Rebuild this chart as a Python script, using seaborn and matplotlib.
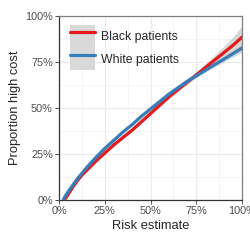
import pandas as pd
import matplotlib
matplotlib.use("Agg")
import matplotlib.pyplot as plt
import seaborn as sns
from matplotlib.lines import Line2D
from matplotlib.patches import Patch
from matplotlib.ticker import MultipleLocator, PercentFormatter

# risk estimate grid and smoothed proportion high cost per group
risk = [0.025, 0.05, 0.075, 0.10, 0.125, 0.15, 0.20, 0.25, 0.30, 0.35, 0.40, 0.45,
        0.50, 0.55, 0.60, 0.65, 0.70, 0.75, 0.80, 0.85, 0.90, 0.95, 1.00]
black_cost = [-0.005, 0.03, 0.07, 0.105, 0.135, 0.16, 0.21, 0.255, 0.30, 0.34, 0.38, 0.425,
              0.47, 0.515, 0.56, 0.60, 0.64, 0.68, 0.72, 0.76, 0.80, 0.84, 0.885]
white_cost = [0.006, 0.045, 0.08, 0.115, 0.145, 0.175, 0.23, 0.28, 0.325, 0.37, 0.41, 0.455,
              0.495, 0.535, 0.575, 0.61, 0.645, 0.675, 0.705, 0.735, 0.765, 0.795, 0.825]
black_se = [0.012, 0.01, 0.009, 0.008, 0.008, 0.008, 0.008, 0.008, 0.008, 0.008, 0.009, 0.009,
            0.01, 0.01, 0.01, 0.011, 0.012, 0.015, 0.02, 0.027, 0.035, 0.046, 0.06]
white_se = [0.01, 0.008, 0.007, 0.006, 0.006, 0.006, 0.006, 0.006, 0.006, 0.006, 0.006, 0.006,
            0.006, 0.006, 0.006, 0.007, 0.008, 0.008, 0.01, 0.012, 0.014, 0.018, 0.022]

groups = ["Black patients", "White patients"]
colors = {"Black patients": "#E41A1C", "White patients": "#377EB8"}

df = pd.concat([
    pd.DataFrame({"risk": risk, "cost": black_cost, "se": black_se, "group": groups[0]}),
    pd.DataFrame({"risk": risk, "cost": white_cost, "se": white_se, "group": groups[1]}),
])

sns.set_style("white")
plt.rcParams["font.family"] = ["Liberation Sans", "DejaVu Sans"]

fig, ax = plt.subplots(figsize=(2.5, 2.5), dpi=100)
fig.subplots_adjust(left=0.236, right=0.968, top=0.936, bottom=0.2)

for g in groups:
    d = df[df["group"] == g]
    ax.fill_between(d["risk"], d["cost"] - d["se"], d["cost"] + d["se"],
                    color="#999999", alpha=0.4, lw=0, zorder=2)
sns.lineplot(data=df, x="risk", y="cost", hue="group", palette=colors,
             lw=2.3, legend=False, ax=ax, zorder=3)

ax.set_xlim(0, 1)
ax.set_ylim(0, 1)
ax.xaxis.set_major_locator(MultipleLocator(0.25))
ax.yaxis.set_major_locator(MultipleLocator(0.25))
ax.xaxis.set_minor_locator(MultipleLocator(0.125))
ax.yaxis.set_minor_locator(MultipleLocator(0.125))
ax.xaxis.set_major_formatter(PercentFormatter(1.0, decimals=0))
ax.yaxis.set_major_formatter(PercentFormatter(1.0, decimals=0))
ax.grid(which="major", color="#EBEBEB", lw=0.8, zorder=0)
ax.grid(which="minor", color="#F2F2F2", lw=0.5, zorder=0)
ax.set_axisbelow(True)
ax.tick_params(axis="both", which="major", direction="out", length=3, width=0.6,
               color="#333333", labelsize=7.8, labelcolor="#4D4D4D", pad=1.5,
               bottom=True, left=True)
ax.tick_params(which="minor", length=0)
for side, sp in ax.spines.items():
    sp.set_color("#333333" if side in ("left", "bottom") else "#7F7F7F")
    sp.set_linewidth(0.9)

ax.set_xlabel("Risk estimate", fontsize=9.3, labelpad=2.5)
ax.set_ylabel("Proportion high cost", fontsize=9.3, labelpad=3)

handles = [(Patch(facecolor="#D9D9D9", edgecolor="none"),
            Line2D([], [], color=colors[g], lw=2.3)) for g in groups]
ax.legend(handles, groups, loc="upper left", frameon=False, fontsize=8.8,
          handlelength=2.0, handleheight=2.5, labelspacing=0.0,
          handletextpad=0.5, borderaxespad=0.3, bbox_to_anchor=(0.015, 1.0))

fig.savefig("out.png", dpi=100)
